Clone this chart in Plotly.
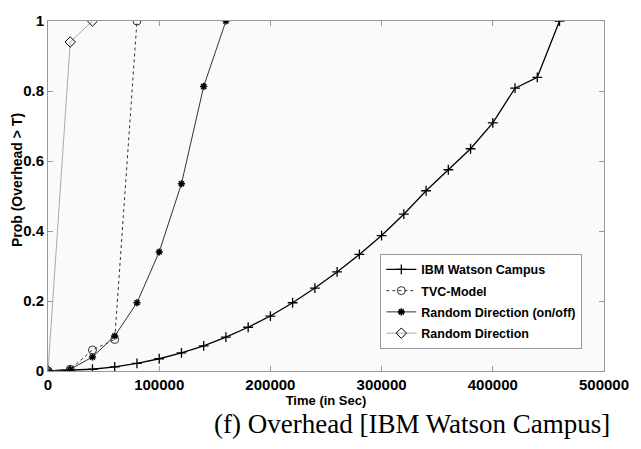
import plotly.graph_objects as go

# Data
ibm_x = [0, 20000, 40000, 60000, 80000, 100000, 120000, 140000, 160000, 180000, 200000,
         220000, 240000, 260000, 280000, 300000, 320000, 340000, 360000, 380000, 400000,
         420000, 440000, 460000]
ibm_y = [0.0, 0.002, 0.005, 0.012, 0.022, 0.035, 0.052, 0.072, 0.097, 0.125, 0.157,
         0.195, 0.237, 0.283, 0.333, 0.387, 0.448, 0.515, 0.575, 0.635, 0.709,
         0.808, 0.839, 1.0]

tvc_x = [0, 20000, 40000, 60000, 80000]
tvc_y = [0.0, 0.005, 0.06, 0.09, 1.0]

rdo_x = [0, 20000, 40000, 60000, 80000, 100000, 120000, 140000, 160000]
rdo_y = [0.0, 0.005, 0.04, 0.10, 0.195, 0.34, 0.535, 0.813, 1.0]

rd_x = [0, 20000, 40000]
rd_y = [0.0, 0.94, 1.0]

x_ticks = [0, 100000, 200000, 300000, 400000, 500000]
x_tick_labels = ["0", "100000", "200000", "300000", "400000", "500000"]
y_ticks = [0, 0.2, 0.4, 0.6, 0.8, 1]
y_tick_labels = ["0", "0.2", "0.4", "0.6", "0.8", "1"]

FONT = "Liberation Sans Narrow, Arial Narrow, Liberation Sans, Arial"

fig = go.Figure()
fig.add_trace(go.Scatter(x=ibm_x, y=ibm_y, mode="lines+markers", name="IBM Watson Campus",
                         legendgroup="a",
                         line=dict(color="black", width=1.3),
                         marker=dict(symbol="cross-thin", size=7, line=dict(color="black", width=1.3))))
fig.add_trace(go.Scatter(x=tvc_x, y=tvc_y, mode="lines+markers", name="TVC-Model",
                         legendgroup="b",
                         line=dict(color="#333333", width=1, dash="dot"),
                         marker=dict(symbol="circle-open", size=8, color="#333333", line=dict(width=1))))
fig.add_trace(go.Scatter(x=rdo_x, y=rdo_y, mode="lines+markers", name="Random Direction (on/off)",
                         legendgroup="c",
                         line=dict(color="#333333", width=1),
                         marker=dict(symbol="asterisk-open", size=6, color="black", line=dict(color="black", width=1.6))))
fig.add_trace(go.Scatter(x=rd_x, y=rd_y, mode="lines+markers", name="Random Direction",
                         legendgroup="d",
                         line=dict(color="#aaaaaa", width=1),
                         marker=dict(symbol="diamond-open", size=8, color="black", line=dict(color="black", width=1))))

axis_common = dict(showline=True, linecolor="#999999", linewidth=1, mirror="ticks",
                   ticks="inside", ticklen=5, tickcolor="#999999", showgrid=False, zeroline=False,
                   tickfont=dict(family=FONT, size=15, color="black", weight="bold"))

fig.update_xaxes(range=[0, 500000], tickvals=x_ticks, ticktext=x_tick_labels,
                 title=dict(text="Time (in Sec)", font=dict(family=FONT, size=13, color="black", weight="bold"),
                            standoff=3),
                 **axis_common)
fig.update_yaxes(range=[0, 1], tickvals=y_ticks, ticktext=y_tick_labels, **axis_common)

fig.update_layout(
    width=641, height=449,
    margin=dict(l=48, r=34, t=13, b=78),
    paper_bgcolor="white", plot_bgcolor="#fafafa",
    showlegend=True,
    legend=dict(x=0.961, y=0.335, xanchor="right", yanchor="top",
                bgcolor="white", bordercolor="#999999", borderwidth=1,
                font=dict(family=FONT, size=12.5, color="black", weight="bold"),
                tracegroupgap=2, itemwidth=30),
    annotations=[
        dict(text="(f) Overhead [IBM Watson Campus]", xref="paper", yref="paper",
             x=0.655, y=-0.104, xanchor="center", yanchor="top", showarrow=False,
             font=dict(family="Liberation Serif, Times New Roman, serif", size=27, color="black")),
        dict(text="Prob (Overhead > T)", xref="paper", yref="paper",
             x=-0.056, y=0.545, xanchor="center", yanchor="middle", showarrow=False, textangle=-90,
             font=dict(family=FONT, size=14, color="black", weight="bold")),
    ],
)

fig.write_html("out.html")
